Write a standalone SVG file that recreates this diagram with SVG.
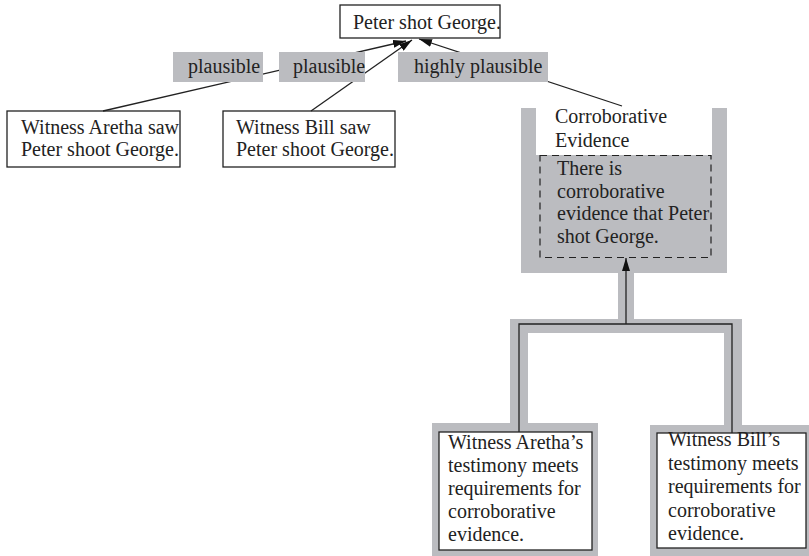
<svg xmlns="http://www.w3.org/2000/svg" width="809" height="556" viewBox="0 0 809 556">
<style>
text{font-family:"Liberation Serif","Times New Roman",serif;font-size:20px;fill:#222}
.box{fill:#fff;stroke:#222;stroke-width:1.3}
.g{fill:#bbbcc0}
.ln{stroke:#222;stroke-width:1.3;fill:none}
</style>
<defs>
<marker id="ah" markerUnits="userSpaceOnUse" markerWidth="14" markerHeight="8" refX="13" refY="4" orient="auto">
<path d="M0,0 L13,4 L0,8 z" fill="#111"/>
</marker>
</defs>
<rect width="809" height="556" fill="#fff"/>

<g id="node-peter">
<rect class="box" x="340" y="5" width="160" height="33"/>
<text x="353" y="29">Peter shot George.</text>
</g>

<g id="node-aretha-saw">
<rect class="box" x="7" y="111" width="173" height="56"/>
<text x="21" y="134">Witness Aretha saw</text>
<text x="21" y="156">Peter shoot George.</text>
</g>

<g id="node-bill-saw">
<rect class="box" x="223" y="111" width="172" height="56"/>
<text x="236" y="134">Witness Bill saw</text>
<text x="236" y="156">Peter shoot George.</text>
</g>

<g id="node-corroborative">
<rect class="g" x="521" y="108" width="206" height="165"/>
<rect x="536" y="108" width="176" height="47" fill="#fff"/>
<text x="555" y="123">Corroborative</text>
<text x="555" y="147">Evidence</text>
<rect x="540" y="155.5" width="171" height="102" fill="none" stroke="#222" stroke-width="1.2" stroke-dasharray="7,5"/>
<text x="557" y="175">There is</text>
<text x="557" y="198">corroborative</text>
<text x="557" y="220">evidence that Peter</text>
<text x="557" y="243">shot George.</text>
</g>

<g id="node-aretha-testimony">
<rect class="g" x="432" y="423" width="166" height="133"/>
<rect class="box" x="439" y="432" width="153" height="118"/>
<text x="448" y="449">Witness Aretha’s</text>
<text x="448" y="472">testimony meets</text>
<text x="448" y="495">requirements for</text>
<text x="448" y="518">corroborative</text>
<text x="448" y="541">evidence.</text>
</g>

<g id="node-bill-testimony">
<rect class="g" x="650" y="425" width="159" height="131"/>
<rect class="box" x="657" y="433" width="149" height="115"/>
<text x="668" y="446">Witness Bill’s</text>
<text x="668" y="470">testimony meets</text>
<text x="668" y="493">requirements for</text>
<text x="668" y="517">corroborative</text>
<text x="668" y="540">evidence.</text>
</g>

<g id="connectors">
<line class="ln" x1="103" y1="111" x2="406" y2="41" marker-end="url(#ah)"/>
<line class="ln" x1="311" y1="111" x2="412" y2="40" marker-end="url(#ah)"/>
<line class="ln" x1="622" y1="106" x2="419" y2="39" marker-end="url(#ah)"/>
<rect class="g" x="510" y="319" width="232" height="14"/>
<rect class="g" x="510" y="319" width="18" height="106"/>
<rect class="g" x="724" y="319" width="18" height="108"/>
<rect class="g" x="618" y="270" width="16" height="52"/>
<polyline class="ln" points="519,432 519,324 732,324 732,433"/>
<line class="ln" x1="626" y1="324" x2="626" y2="258" marker-end="url(#ah)"/>
</g>

<g id="label-plausible-1">
<rect class="g" x="173" y="52" width="90" height="30"/>
<text x="188" y="73">plausible</text>
</g>
<g id="label-plausible-2">
<rect class="g" x="279" y="52" width="86" height="30"/>
<text x="293" y="73">plausible</text>
</g>
<g id="label-highly">
<rect class="g" x="398" y="52" width="150" height="30"/>
<text x="414" y="73">highly plausible</text>
</g>
</svg>
